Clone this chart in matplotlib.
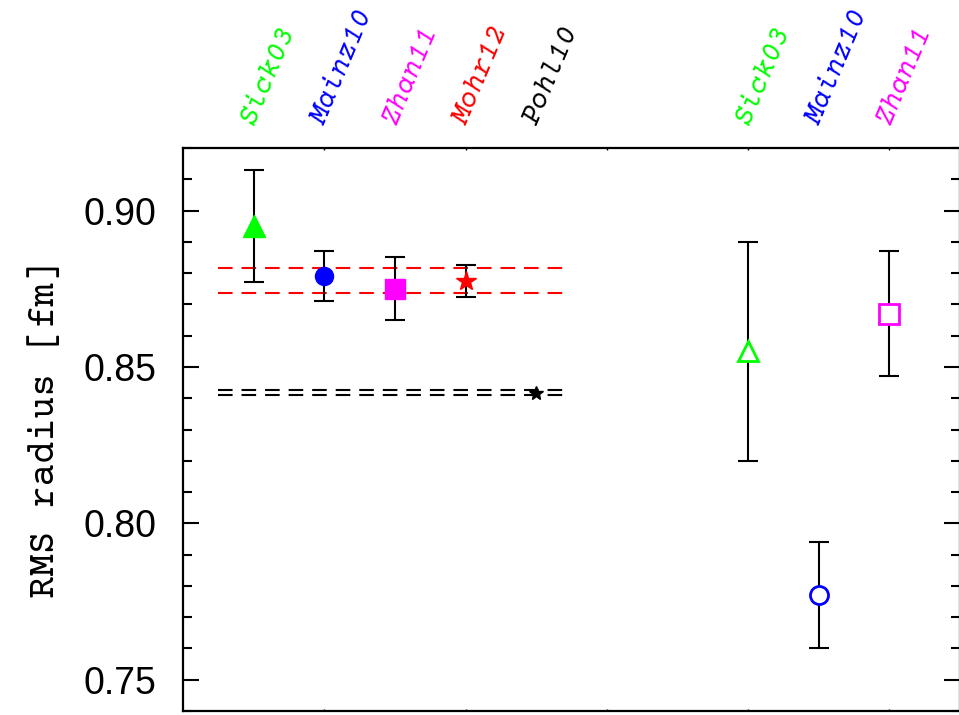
import matplotlib
matplotlib.use("Agg")
import matplotlib.pyplot as plt

plt.rcParams['font.family'] = ['Courier Prime', 'DejaVu Sans Mono']

# left group: filled markers
names_a = ['Sick03', 'Mainz10', 'Zhan11', 'Mohr12', 'Pohl10']
x_a = [0.5, 1.0, 1.5, 2.0, 2.5]
r_a = [0.895, 0.879, 0.875, 0.8775, 0.8418]
e_a = [0.018, 0.008, 0.010, 0.0051, 0.0]
col_a = ['#00ff00', '#0000ff', '#ff00ff', '#ff0000', 'black']
mk_a = ['^', 'o', 's', '*', '*']
ms_a = [16, 13, 14, 15, 10]

# right group: open markers
names_b = ['Sick03', 'Mainz10', 'Zhan11']
x_b = [4.0, 4.5, 5.0]
r_b = [0.855, 0.777, 0.867]
e_b = [0.035, 0.017, 0.020]
col_b = ['#00ff00', '#0000ff', '#ff00ff']
mk_b = ['^', 'o', 's']
ms_b = [15, 13, 14]

# band lines
red_band = [0.8816, 0.8736]
black_band = [0.8427, 0.8410]
band_x = [0.25, 2.75]

fig = plt.figure(figsize=(9.59, 7.15), dpi=100)
ax = fig.add_axes([0.1908, 0.0056, 0.8102, 0.7874])

for y in red_band:
    ax.plot(band_x, [y, y], color='red', lw=1.5, dashes=(7, 4.3), zorder=1)
for y in black_band:
    ax.plot(band_x, [y, y], color='black', lw=1.5, dashes=(7, 4.3), zorder=1)

for i in range(len(names_a)):
    if e_a[i] > 0:
        ax.errorbar(x_a[i], r_a[i], yerr=e_a[i], fmt='none', ecolor='black',
                    elinewidth=1.5, capsize=7.5, capthick=1.5, zorder=2)
    ax.plot(x_a[i], r_a[i], marker=mk_a[i], ms=ms_a[i], color=col_a[i],
            mec=col_a[i], zorder=3)

for i in range(len(names_b)):
    ax.errorbar(x_b[i], r_b[i], yerr=e_b[i], fmt='none', ecolor='black',
                elinewidth=1.5, capsize=7.5, capthick=1.5, zorder=2)
    ax.plot(x_b[i], r_b[i], marker=mk_b[i], ms=ms_b[i], mfc='white',
            mec=col_b[i], mew=2, zorder=3)

# rotated labels above the frame
for xs, ns, cs in [(x_a, names_a, col_a), (x_b, names_b, col_b)]:
    for x, n, c in zip(xs, ns, cs):
        ax.annotate(n, xy=(x, 1.0), xycoords=('data', 'axes fraction'),
                    xytext=(-4, 18), textcoords='offset points',
                    rotation=67, rotation_mode='anchor', ha='left', va='center',
                    color=c, fontsize=21, style='italic')

ax.set_xlim(0, 5.5)
ax.set_ylim(0.74, 0.92)
ax.set_yticks([0.75, 0.80, 0.85, 0.90])
ax.set_yticks([0.74 + 0.01 * k for k in range(19)], minor=True)
ax.set_yticklabels(['0.75', '0.80', '0.85', '0.90'], family='Liberation Sans',
                   fontsize=27)
ax.set_xticks([1, 2, 3, 4, 5])
ax.set_xticklabels([])
ax.tick_params(axis='y', which='major', direction='in', length=11.5, width=1.5,
               left=True, right=True, pad=19)
ax.tick_params(axis='y', which='minor', direction='in', length=6.5, width=1.5,
               left=True, right=True)
ax.tick_params(axis='x', which='major', direction='in', length=1.5, width=1,
               top=True, bottom=True)
for s in ax.spines.values():
    s.set_linewidth(1.6)
ax.set_ylabel('RMS radius [fm]', fontsize=27, labelpad=16)

fig.savefig('out.png', dpi=100)
